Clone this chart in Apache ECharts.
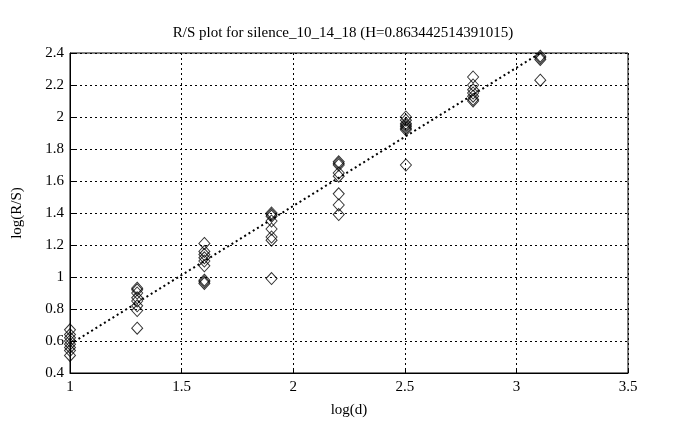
<!DOCTYPE html>
<html>
<head>
<meta charset="utf-8">
<script src="https://cdn.jsdelivr.net/npm/echarts@6/dist/echarts.min.js"></script>
<style>
html,body{margin:0;padding:0;background:#fff;}
#c{width:686px;height:430px;}
</style>
</head>
<body>
<div id="c"></div>
<script>
// Data: log(d) groups and log(R/S) values
const xGroups = [1.0, 1.301, 1.602, 1.903, 2.204, 2.505, 2.806, 3.107];
const yGroups = [
  [0.67, 0.64, 0.62, 0.60, 0.58, 0.56, 0.54, 0.51],
  [0.93, 0.92, 0.90, 0.87, 0.85, 0.82, 0.79, 0.68],
  [1.21, 1.16, 1.14, 1.12, 1.10, 1.07, 0.98, 0.97, 0.96],
  [1.40, 1.39, 1.38, 1.35, 1.30, 1.25, 1.23, 0.99],
  [1.72, 1.71, 1.70, 1.65, 1.63, 1.52, 1.45, 1.39],
  [2.00, 1.98, 1.96, 1.95, 1.94, 1.93, 1.92, 1.70],
  [2.25, 2.20, 2.17, 2.15, 2.13, 2.11, 2.10],
  [2.38, 2.37, 2.36, 2.23]
];
const fitX = [1.0, 3.107];
const fitY = [0.58, 2.40];
const xTicks = [1, 1.5, 2, 2.5, 3, 3.5];
const yTicks = [0.4, 0.6, 0.8, 1, 1.2, 1.4, 1.6, 1.8, 2, 2.2, 2.4];
const titleText = 'R/S plot for silence_10_14_18 (H=0.863442514391015)';

const pts = [];
xGroups.forEach((x, i) => yGroups[i].forEach(y => pts.push([x, y])));
const fitLine = fitX.map((x, i) => [x, fitY[i]]);

const font = 'Liberation Serif, Times New Roman, serif';
const chart = echarts.init(document.getElementById('c'), null, {renderer: 'canvas'});
chart.setOption({
  animation: false,
  backgroundColor: '#fff',
  title: {
    text: titleText, left: 'center', top: 21,
    textStyle: {fontFamily: font, fontSize: 15, fontWeight: 'normal', color: '#000'}
  },
  grid: {left: 70, right: 58, top: 53, bottom: 57, show: true, borderColor: '#000', borderWidth: 1},
  xAxis: {
    type: 'value', min: 1, max: 3.5, interval: 0.5,
    name: 'log(d)', nameLocation: 'middle', nameGap: 30,
    nameTextStyle: {fontFamily: font, fontSize: 15, color: '#000'},
    axisLine: {show: true, onZero: false, lineStyle: {color: '#000'}},
    axisTick: {show: true, inside: true, length: 5, lineStyle: {color: '#000'}},
    axisLabel: {fontFamily: font, fontSize: 15, color: '#000', margin: 7,
      formatter: v => String(Math.round(v * 10) / 10)},
    splitLine: {show: true, lineStyle: {color: '#000', type: [2, 3], width: 1}}
  },
  yAxis: {
    type: 'value', min: 0.4, max: 2.4, interval: 0.2,
    name: 'log(R/S)', nameLocation: 'middle', nameGap: 45, nameRotate: 90,
    nameTextStyle: {fontFamily: font, fontSize: 15, color: '#000'},
    axisLine: {show: true, onZero: false, lineStyle: {color: '#000'}},
    axisTick: {show: true, inside: true, length: 5, lineStyle: {color: '#000'}},
    axisLabel: {fontFamily: font, fontSize: 15, color: '#000', margin: 6,
      formatter: v => String(Math.round(v * 10) / 10)},
    splitLine: {show: true, lineStyle: {color: '#000', type: [2, 3], width: 1}}
  },
  series: [
    {
      type: 'scatter', data: pts, symbol: 'diamond', symbolSize: [11, 12],
      itemStyle: {color: 'rgba(255,255,255,0)', borderColor: '#000', borderWidth: 1}
    },
    {
      type: 'line', data: fitLine, symbol: 'none',
      lineStyle: {color: '#000', width: 2, type: [2, 3]}
    }
  ]
});
</script>
</body>
</html>
